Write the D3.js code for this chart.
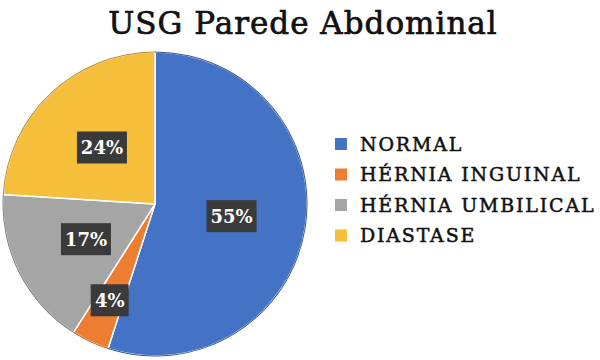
<!DOCTYPE html>
<html lang="pt">
<head>
    <meta charset="UTF-8">
    <title>USG Parede Abdominal</title>
    <script src="https://cdn.jsdelivr.net/npm/d3@7/dist/d3.min.js"></script>
    <style>
        body { margin: 0; background: #fff; }
        text { font-family: "DejaVu Serif", serif; }
    </style>
</head>
<body>
    <div id="chart"></div>
    <script>
        // chart data
        const categories = ["NORMAL", "HÉRNIA INGUINAL", "HÉRNIA UMBILICAL", "DIASTASE"];
        const values = [55, 4, 17, 24];
        const colors = ["#4472C4", "#ED7D31", "#A5A5A5", "#F5BE3B"];
        const title = "USG Parede Abdominal";

        const width = 600, height = 360;
        const cx = 155, cy = 204, radius = 152;

        const svg = d3.select("#chart")
            .append("svg")
            .attr("width", width)
            .attr("height", height);

        // title: regular weight with a thin outline to get a semi-bold look
        svg.append("text")
            .attr("x", 303)
            .attr("y", 34)
            .attr("text-anchor", "middle")
            .attr("font-size", 31)
            .attr("letter-spacing", 1)
            .attr("fill", "#111")
            .attr("stroke", "#111")
            .attr("stroke-width", 0.7)
            .text(title);

        const color = d3.scaleOrdinal().domain(categories).range(colors);
        const total = d3.sum(values);

        const pie = d3.pie().sort(null).value(d => d.value);
        const arcs = pie(categories.map((c, i) => ({ name: c, value: values[i] })));

        const arc = d3.arc().innerRadius(0).outerRadius(radius);

        const g = svg.append("g")
            .attr("transform", "translate(" + cx + "," + cy + ")");

        // slices
        g.selectAll("path.slice")
            .data(arcs)
            .enter().append("path")
            .attr("class", "slice")
            .attr("d", arc)
            .attr("fill", d => color(d.data.name))
            .attr("stroke", "#fff")
            .attr("stroke-width", 1.5);

        // darker rim on each slice
        const rim = d3.arc().innerRadius(radius - 0.5).outerRadius(radius + 0.5);
        g.selectAll("path.rim")
            .data(arcs)
            .enter().append("path")
            .attr("class", "rim")
            .attr("d", rim)
            .attr("fill", d => d3.color(color(d.data.name)).darker(0.8));

        // data labels
        const labels = g.selectAll("g.label")
            .data(arcs)
            .enter().append("g")
            .attr("class", "label")
            .attr("transform", d => {
                const r = d.data.value / total < 0.06 ? radius * 0.7 : radius * 0.51;
                const c = d3.arc().innerRadius(r).outerRadius(r).centroid(d);
                return "translate(" + c[0] + "," + c[1] + ")";
            });

        labels.append("rect")
            .attr("x", d => d.data.value < 10 ? -19 : -25)
            .attr("y", -16)
            .attr("width", d => d.data.value < 10 ? 38 : 50)
            .attr("height", 32)
            .attr("fill", "#3a3a3a");

        labels.append("text")
            .attr("text-anchor", "middle")
            .attr("dy", "0.36em")
            .attr("font-size", 18)
            .attr("font-weight", "bold")
            .attr("fill", "#fff")
            .text(d => Math.round(d.data.value / total * 100) + "%");

        // legend
        const legend = svg.append("g")
            .attr("transform", "translate(335,138)");

        const item = legend.selectAll("g")
            .data(categories)
            .enter().append("g")
            .attr("transform", (d, i) => "translate(0," + i * 30.5 + ")");

        item.append("rect")
            .attr("width", 12)
            .attr("height", 12)
            .attr("fill", d => color(d));

        item.append("text")
            .attr("x", 25)
            .attr("y", 12.5)
            .attr("font-size", 19)
            .attr("letter-spacing", 1.8)
            .attr("fill", "#111")
            .attr("stroke", "#111")
            .attr("stroke-width", 0.5)
            .text(d => d);
    </script>
</body>
</html>
